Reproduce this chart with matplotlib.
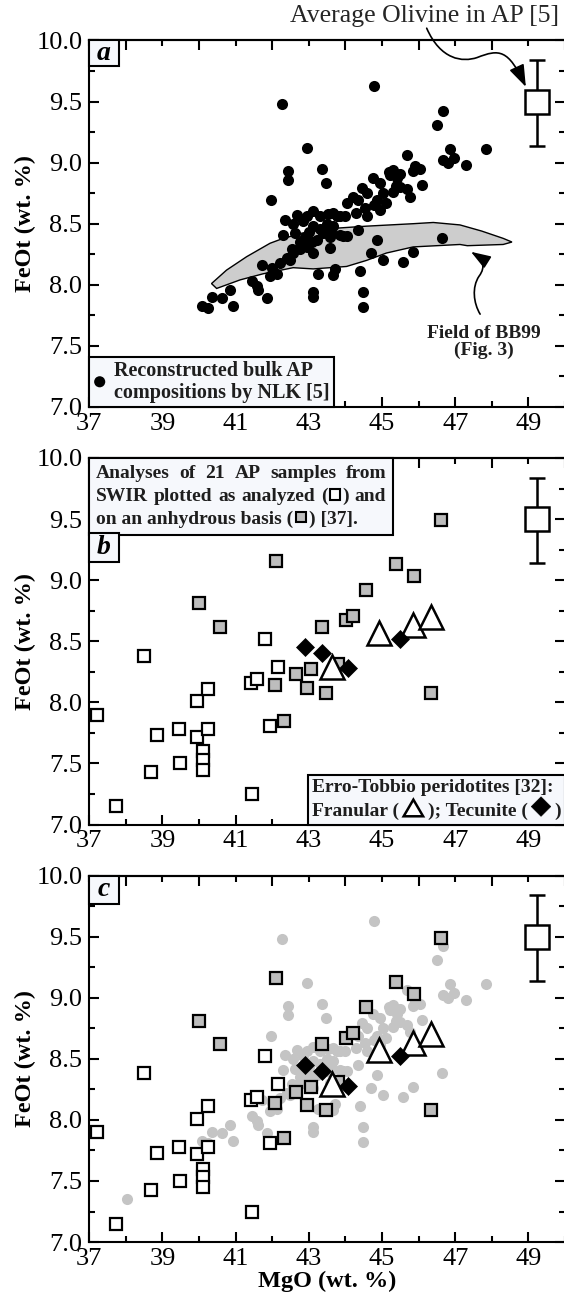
import numpy as np
import matplotlib.pyplot as plt
from matplotlib.patches import Rectangle, Circle, Polygon, FancyArrowPatch
from matplotlib.path import Path
from matplotlib.offsetbox import AnchoredOffsetbox, TextArea, DrawingArea, HPacker, VPacker

plt.rcParams['font.family'] = ['Liberation Serif', 'DejaVu Serif']
plt.rcParams['axes.linewidth'] = 1.5

# reconstructed bulk AP compositions by NLK [5]
nlk_mgo = [44.79, 42.27, 46.67, 46.49, 42.94, 47.83, 46.86, 46.67, 46.96, 46.80,
           47.30, 45.67, 42.44, 42.42, 43.35, 43.46, 41.96, 46.08, 45.31, 46.04,
           45.85, 45.49, 45.22, 44.94, 44.76, 44.44, 44.21, 44.03, 44.35, 44.58,
           44.85, 45.03, 45.31, 45.49, 45.76, 45.12, 44.94, 44.53, 44.30, 44.58,
           44.35, 43.99, 43.76, 43.53, 43.30, 43.12, 42.94, 42.67, 42.85, 42.57,
           42.35, 42.30, 42.62, 42.89, 43.12, 43.30, 43.49, 43.67, 43.85, 43.58,
           43.39, 43.21, 43.08, 42.94, 42.76, 42.57, 42.39, 42.21, 42.12, 41.94,
           41.71, 41.98, 42.48, 42.53, 42.76, 43.58, 43.12, 43.94, 43.67, 44.85,
           44.71, 45.03, 45.58, 45.85, 46.63, 43.26, 43.67, 43.71, 44.40, 44.47,
           44.47, 43.12, 43.12, 41.85, 41.57, 41.44, 41.62, 40.84, 40.62, 40.34,
           40.07, 40.25, 40.94, 45.40, 45.90, 45.18, 45.37, 45.69, 44.79, 43.86,
           43.00, 43.60, 44.05, 38.02]
nlk_feo = [9.63, 9.48, 9.42, 9.31, 9.12, 9.11, 9.11, 9.02, 9.04, 9.00,
           8.98, 9.06, 8.93, 8.86, 8.95, 8.83, 8.69, 8.82, 8.94, 8.95,
           8.93, 8.91, 8.90, 8.83, 8.87, 8.79, 8.72, 8.67, 8.69, 8.75,
           8.69, 8.75, 8.76, 8.80, 8.72, 8.67, 8.61, 8.63, 8.59, 8.56,
           8.45, 8.56, 8.56, 8.58, 8.56, 8.60, 8.56, 8.57, 8.52, 8.50,
           8.53, 8.41, 8.42, 8.39, 8.48, 8.46, 8.50, 8.48, 8.41, 8.39,
           8.42, 8.37, 8.35, 8.31, 8.29, 8.26, 8.22, 8.18, 8.09, 8.07,
           8.16, 8.14, 8.20, 8.29, 8.35, 8.30, 8.26, 8.40, 8.59, 8.37,
           8.26, 8.20, 8.19, 8.27, 8.38, 8.09, 8.08, 8.13, 8.11, 7.94,
           7.82, 7.94, 7.90, 7.89, 7.99, 8.03, 7.96, 7.96, 7.89, 7.90,
           7.83, 7.81, 7.83, 8.87, 8.97, 8.92, 8.81, 8.78, 8.65, 8.56,
           8.43, 8.43, 8.40, 7.35]

# field of BB99 (Fig. 3), outline
bb99_mgo = [40.34, 40.75, 41.30, 41.94, 42.21, 42.76, 43.58, 44.58, 45.85, 46.40,
            47.13, 47.72, 48.31, 48.55, 48.31, 47.33, 47.13, 45.85, 45.12, 44.58,
            44.03, 43.12, 42.57, 41.75, 41.12, 40.48]
bb99_feo = [8.01, 8.12, 8.23, 8.34, 8.37, 8.42, 8.46, 8.48, 8.50, 8.51,
            8.49, 8.44, 8.38, 8.35, 8.33, 8.32, 8.33, 8.31, 8.26, 8.20,
            8.15, 8.13, 8.14, 8.09, 8.04, 7.97]

# 21 AP samples from SWIR [37]: as analyzed and on an anhydrous basis
swir_mgo = [37.22, 37.74, 38.50, 38.70, 38.84, 39.44, 39.49, 39.94, 39.93, 40.25,
            40.25, 40.10, 40.10, 40.10, 41.41, 41.58, 41.81, 41.45, 41.95, 42.15]
swir_feo = [7.90, 7.15, 8.38, 7.43, 7.73, 7.78, 7.50, 8.01, 7.72, 8.11,
            7.78, 7.60, 7.53, 7.45, 8.16, 8.19, 8.52, 7.25, 7.81, 8.29]
anh_mgo = [40.01, 40.56, 42.11, 42.07, 42.32, 42.66, 43.05, 42.96, 43.37, 43.47,
           43.80, 44.02, 44.20, 44.56, 45.38, 45.87, 46.62, 46.33]
anh_feo = [8.81, 8.62, 9.16, 8.14, 7.85, 8.23, 8.27, 8.12, 8.62, 8.08,
           8.31, 8.67, 8.71, 8.92, 9.13, 9.03, 9.49, 8.08]

# Erro-Tobbio peridotites [32]
fran_mgo = [43.62, 44.93, 45.84, 46.33]
fran_feo = [8.29, 8.57, 8.63, 8.70]
tec_mgo = [42.90, 43.35, 44.06, 45.50]
tec_feo = [8.45, 8.40, 8.28, 8.52]

# average olivine in AP [5]
ol_mgo = 49.24
ol_feo = 9.50
ol_lo = 9.14
ol_hi = 9.84

BOX_FC = '#f6f8fc'
TXT = '#1e1e1e'
GREY_SQ = '#bdbdbd'
GREY_DOT = '#c4c4c4'
TICK_SIZE = 19


def style_axes(ax):
    ax.set_xlim(37, 50)
    ax.set_ylim(7, 10)
    yt = np.arange(7, 10.01, 0.5)
    ax.set_xticks(range(37, 50, 2))
    ax.set_xticks(range(38, 51, 2), minor=True)
    ax.set_yticks(yt)
    ax.set_yticklabels([f'{v:.1f}' for v in yt])
    ax.set_yticks(np.arange(7.25, 10, 0.5), minor=True)
    ax.tick_params(which='both', direction='in', right=True, width=1.5,
                   labelsize=TICK_SIZE)
    ax.tick_params(axis='y', pad=5)
    ax.tick_params(axis='x', pad=4)
    ax.tick_params(which='major', length=7)
    ax.tick_params(which='minor', length=4)
    # top axis carries its long ticks on the even values
    top = ax.secondary_xaxis('top')
    top.set_xticks(range(38, 51, 2))
    top.set_xticks(range(37, 50, 2), minor=True)
    top.tick_params(which='both', direction='in', width=1.5, labeltop=False)
    top.tick_params(which='major', length=7)
    top.tick_params(which='minor', length=4)
    top.spines['top'].set_linewidth(1.5)
    ax.set_ylabel('FeOt (wt. %)', fontsize=17.5, fontweight='bold')
    ax.yaxis.set_label_coords(-0.112, 0.5)


def panel_tag(ax, letter, top, h):
    ax.add_patch(Rectangle((0, top - h), 0.062, h, transform=ax.transAxes,
                           fc=BOX_FC, ec='black', lw=1.5, zorder=6, clip_on=False))
    ax.text(0.031, top - h / 2, letter, transform=ax.transAxes, ha='center',
            va='center', fontsize=20, fontweight='bold', fontstyle='italic', zorder=7)


def txt(s, size=14):
    return TextArea(s, textprops=dict(fontsize=size, fontweight='bold', color=TXT))


def sq_glyph(fc):
    da = DrawingArea(9, 9, 0, 0)
    da.add_artist(Rectangle((0.8, 0.8), 7.4, 7.4, fc=fc, ec='black', lw=1.5))
    return da


def tri_glyph():
    da = DrawingArea(16, 13, 0, 1)
    da.add_artist(Polygon([[1, 0], [15, 0], [8, 12]], closed=True, fc='white',
                          ec='black', lw=1.8))
    return da


def dia_glyph():
    da = DrawingArea(14, 14, 0, 1.5)
    da.add_artist(Polygon([[7, 0], [14, 7], [7, 14], [0, 7]], closed=True, fc='black',
                          ec='black', lw=0.5))
    return da


def dot_glyph():
    da = DrawingArea(9, 9, 0, 0)
    da.add_artist(Circle((4.5, 4.5), 4.0, fc='black', ec='none'))
    return da


def add_box(ax, child, loc, pad):
    anc = AnchoredOffsetbox(loc=loc, child=child, pad=pad, borderpad=0,
                            frameon=True, prop=dict(size=10))
    anc.patch.set(fc=BOX_FC, ec='black', lw=1.5)
    anc.set_zorder(6)
    ax.add_artist(anc)


def olivine(ax):
    ax.errorbar([ol_mgo], [ol_feo], yerr=[[ol_feo - ol_lo], [ol_hi - ol_feo]],
                fmt='none', ecolor='black', elinewidth=1.8, capsize=5.5,
                capthick=1.8, zorder=3)
    ax.plot([ol_mgo], [ol_feo], 's', ms=17.5, mfc='white', mec='black',
            mew=1.8, zorder=4)


def swir_points(ax):
    ax.plot(swir_mgo, swir_feo, 's', ms=8.2, mfc='white', mec='black', mew=1.6, zorder=3)
    ax.plot(anh_mgo, anh_feo, 's', ms=8.2, mfc=GREY_SQ, mec='black', mew=1.6, zorder=3)
    ax.plot(fran_mgo, fran_feo, '^', ms=17, mfc='white', mec='black', mew=1.8, zorder=4)
    ax.plot(tec_mgo, tec_feo, 'D', ms=8.7, mfc='black', mec='black', mew=0.5, zorder=5)


def curved_arrow(ax, verts, head=0.8, width=0.3):
    codes = [Path.MOVETO] + [Path.CURVE4] * (len(verts) - 1)
    arr = FancyArrowPatch(path=Path(verts, codes),
                          arrowstyle=f'-|>,head_length={head},head_width={width}',
                          mutation_scale=15, lw=1.2, color='black',
                          transform=ax.transData, clip_on=False, zorder=7)
    ax.add_patch(arr)


fig = plt.figure(figsize=(5.64, 13.04), dpi=100)
ax_a = fig.add_axes([0.1583, 0.6879, 0.8435, 0.2811])
ax_b = fig.add_axes([0.1583, 0.3677, 0.8435, 0.2811])
ax_c = fig.add_axes([0.1583, 0.0475, 0.8435, 0.2811])

# ---- panel a
style_axes(ax_a)
ax_a.fill(bb99_mgo, bb99_feo, fc='#cdcdcd', ec='black', lw=1.0, zorder=1)
ax_a.plot(nlk_mgo, nlk_feo, 'o', ms=8.0, color='black', mew=0, zorder=2)
olivine(ax_a)
panel_tag(ax_a, 'a', 1.0, 0.071)
ax_a.text(49.84, 10.2, 'Average Olivine in AP [5]', ha='right', va='center',
          fontsize=18.5, color='#262626', clip_on=False)
curved_arrow(ax_a, [(46.22, 10.10), (46.6, 9.84), (47.2, 9.82), (47.6, 9.86),
                    (48.2, 9.93), (48.45, 9.93), (48.93, 9.62)], head=0.9, width=0.32)
ax_a.text(47.77, 7.60, 'Field of BB99', ha='center', va='center', fontsize=14,
          fontweight='bold', color=TXT)
ax_a.text(47.77, 7.46, '(Fig. 3)', ha='center', va='center', fontsize=14,
          fontweight='bold', color=TXT)
curved_arrow(ax_a, [(47.68, 7.76), (47.50, 7.85), (47.45, 7.98), (47.65, 8.07),
                    (47.85, 8.15), (47.75, 8.21), (47.43, 8.27)], head=0.8, width=0.28)
leg_a = HPacker(children=[dot_glyph(),
                          VPacker(children=[txt('Reconstructed bulk AP', 14.5),
                                            txt('compositions by NLK [5]', 14.5)],
                                  sep=1.5, align='left')],
                sep=6, align='center')
add_box(ax_a, leg_a, 'lower left', 0.3)

# ---- panel b
style_axes(ax_b)
swir_points(ax_b)
olivine(ax_b)
W = 290
line1 = HPacker(children=[txt(w) for w in 'Analyses of 21 AP samples from'.split()],
                mode='expand', width=W, align='baseline')
line2 = HPacker(children=[txt('SWIR'), txt('plotted'), txt('as'), txt('analyzed'),
                          HPacker(children=[txt('('), sq_glyph('white'), txt(')')],
                                  sep=1, align='baseline'),
                          txt('and')],
                mode='expand', width=W, align='baseline')
line3 = HPacker(children=[txt('on an anhydrous basis ('), sq_glyph(GREY_SQ),
                          txt(') [37].')], sep=1, align='baseline')
add_box(ax_b, VPacker(children=[line1, line2, line3], sep=4, align='left'),
        'upper left', 0.5)
panel_tag(ax_b, 'b', 0.795, 0.079)
leg_et = VPacker(children=[txt('Erro-Tobbio peridotites [32]:'),
                           HPacker(children=[txt('Franular ('), tri_glyph(),
                                             txt('); Tecunite ('), dia_glyph(), txt(')')],
                                   sep=2.5, align='baseline')],
                 sep=2, align='left')
add_box(ax_b, leg_et, 'lower right', 0.3)

# ---- panel c
style_axes(ax_c)
ax_c.plot(nlk_mgo, nlk_feo, 'o', ms=8.0, color=GREY_DOT, mew=0, zorder=2)
swir_points(ax_c)
olivine(ax_c)
panel_tag(ax_c, 'c', 1.0, 0.079)
ax_c.set_xlabel('MgO (wt. %)', fontsize=17.5, fontweight='bold', labelpad=1)

fig.savefig('out.png', dpi=100)
